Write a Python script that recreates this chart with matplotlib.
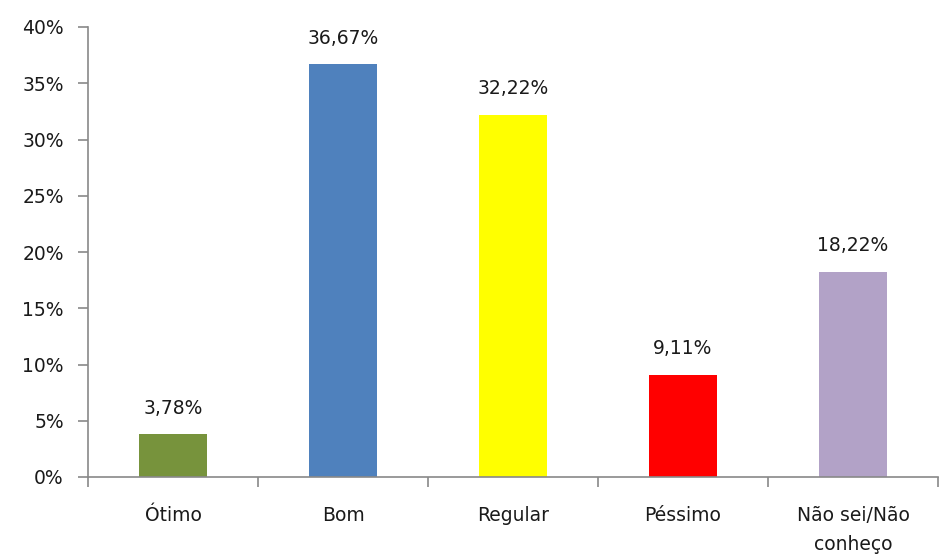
import matplotlib
matplotlib.use("Agg")
import matplotlib.pyplot as plt
from matplotlib.ticker import FixedLocator

categories = ["Ótimo", "Bom", "Regular", "Péssimo", "Não sei/Não\nconheço"]
values = [3.78, 36.67, 32.22, 9.11, 18.22]
labels = ["3,78%", "36,67%", "32,22%", "9,11%", "18,22%"]
colors = ["#77933C", "#4F81BD", "#FFFF00", "#FF0000", "#B2A2C7"]
yticks = [0, 5, 10, 15, 20, 25, 30, 35, 40]
ytick_labels = ["0%", "5%", "10%", "15%", "20%", "25%", "30%", "35%", "40%"]

plt.rcParams['font.family'] = ['DejaVu Sans']
FS = 13.5
TC = "#1a1a1a"

fig = plt.figure(figsize=(9.39, 5.56), dpi=100)
ax = fig.add_axes([88/939, (556-477)/556, 850/939, 450/556])

x = list(range(len(categories)))
ax.bar(x, values, width=0.4, color=colors)
for xi, v, lab in zip(x, values, labels):
    ax.annotate(lab, (xi, v), xytext=(0, 12), textcoords="offset points",
                ha="center", va="bottom", fontsize=FS, color=TC)

ax.set_xlim(-0.5, len(categories) - 0.5)
ax.set_ylim(0, 40)
ax.set_yticks(yticks)
ax.set_yticklabels(ytick_labels, fontsize=FS, color=TC)
ax.set_xticks(x)
ax.set_xticklabels(categories, fontsize=FS, color=TC, va="top", linespacing=1.65)
ax.xaxis.set_minor_locator(FixedLocator([i - 0.5 for i in range(len(categories) + 1)]))
ax.tick_params(axis="x", which="major", length=0, pad=21)
ax.tick_params(axis="x", which="minor", length=7, color="#898989", width=1.2)
ax.tick_params(axis="y", length=7.5, color="#898989", width=1.2, pad=10)

for s in ["top", "right"]:
    ax.spines[s].set_visible(False)
for s in ["left", "bottom"]:
    ax.spines[s].set_color("#898989")
    ax.spines[s].set_linewidth(1.2)

fig.savefig("out.png", dpi=100, facecolor="white")
